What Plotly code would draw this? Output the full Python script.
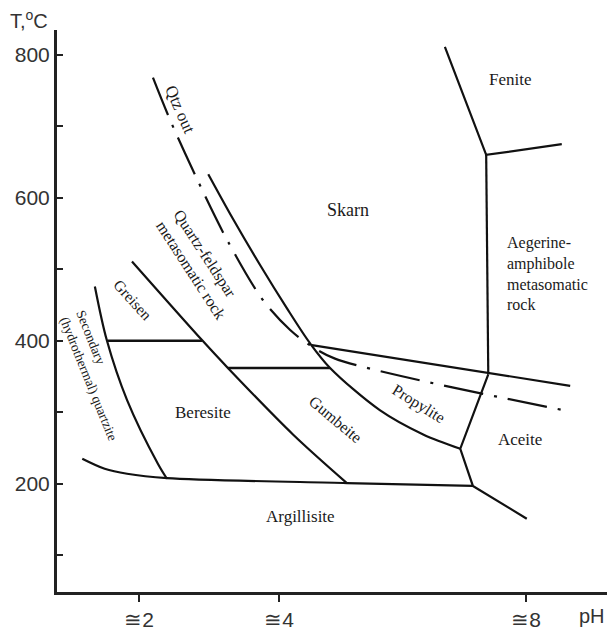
import plotly.graph_objects as go

# ---- data ----
# axis ticks
ph_tick_pos = [2, 4, 7.53]
ph_tick_labels = ["≅2", "≅4", "≅8"]
t_tick_vals = [200, 400, 600, 800]
t_tick_labels = ["200", "400", "600", "800"]
t_minor_vals = [100, 300, 500, 700]

# boundary lines (pH, T)
qtz_out_ph = [2.20, 2.44, 2.84, 3.27, 3.77, 4.16, 4.44, 4.80, 8.06]
qtz_out_t = [768, 710, 624, 539, 457, 415, 394, 375, 303]

skarn_ph = [2.99, 3.34, 3.73, 4.11, 4.44, 4.73, 5.44, 6.06, 6.59]
skarn_t = [633, 571, 506, 446, 397, 362, 303, 269, 249]

propylite_top_ph = [4.47, 8.16]
propylite_top_t = [394, 337]

aegirine_ph = [6.96, 6.99]
aegirine_t = [660, 353]

fenite_ph = [6.37, 6.96, 8.04]
fenite_t = [811, 660, 675]

aceite_ph = [6.99, 6.59, 6.77, 7.54]
aceite_t = [353, 249, 197, 151]

argillisite_ph = [1.19, 1.51, 1.83, 2.40, 4.97, 6.77]
argillisite_t = [235, 221, 214, 208, 201, 197]

quartzite_ph = [1.37, 1.54, 1.83, 2.27, 2.40]
quartzite_t = [476, 401, 317, 228, 207]

greisen_low_ph = [1.55, 2.90]
greisen_low_t = [400, 400]

beresite_ph = [1.90, 2.90, 3.27, 4.20, 4.97]
beresite_t = [511, 401, 362, 269, 201]

gumbeite_top_ph = [3.27, 4.73]
gumbeite_top_t = [362, 362]

LINE = "#111111"
SERIF = "Liberation Serif, Times New Roman, serif"
SANS = "Liberation Sans, Arial, sans-serif"

fig = go.Figure()

def add_line(xs, ys, smooth=False, dash="solid", width=2.2):
    fig.add_trace(go.Scatter(
        x=xs, y=ys, mode="lines",
        line=dict(color=LINE, width=width, dash=dash,
                  shape="spline" if smooth else "linear",
                  smoothing=0.9 if smooth else 0),
        hoverinfo="skip", showlegend=False))

add_line(qtz_out_ph, qtz_out_t, smooth=True, dash="40px,11px,3px,11px", width=2.2)
add_line(skarn_ph, skarn_t, smooth=True)
add_line(propylite_top_ph, propylite_top_t)
add_line(aegirine_ph, aegirine_t)
add_line(fenite_ph, fenite_t)
add_line(aceite_ph, aceite_t)
add_line(argillisite_ph, argillisite_t, smooth=True)
add_line(quartzite_ph, quartzite_t, smooth=True)
add_line(greisen_low_ph, greisen_low_t, width=2.6)
add_line(beresite_ph, beresite_t, smooth=True)
add_line(gumbeite_top_ph, gumbeite_top_t, width=2.6)

labels = [
    # text, x, y, angle, size, align
    ("Qtz out", 2.59, 724, 66, 17, "center"),
    ("Quartz-feldspar<br>metasomatic rock", 2.86, 507, 57, 16, "left"),
    ("Greisen", 1.91, 458, 48, 15.5, "center"),
    ("Secondary<br>(hydrothermal) quartzite", 1.39, 351, 68, 13.5, "left"),
    ("Beresite", 2.91, 300, 0, 17, "center"),
    ("Gumbeite", 4.81, 290, 40, 16, "center"),
    ("Propylite", 5.99, 311, 32, 16, "center"),
    ("Aceite", 7.44, 262, 0, 17, "center"),
    ("Argillisite", 4.31, 154, 0, 17, "center"),
    ("Skarn", 4.99, 583, 0, 18, "center"),
    ("Fenite", 7.31, 765, 0, 17, "center"),
    ("Aegerine-<br>amphibole<br>metasomatic<br>rock", 7.83, 494, 0, 16, "left"),
]
for text, x, y, ang, size, align in labels:
    fig.add_annotation(x=x, y=y, text=text, showarrow=False, textangle=ang,
                       align=align, xanchor="center", yanchor="middle",
                       font=dict(family=SERIF, size=size, color="#1a1a1a"))

fig.add_annotation(xref="paper", yref="paper", x=-0.051, y=1.019,
                   text="T,<sup>o</sup>C", showarrow=False,
                   xanchor="center", yanchor="middle",
                   font=dict(family=SANS, size=20, color="#333333"))
fig.add_annotation(xref="paper", yref="paper", x=1.0, y=-0.042,
                   text="pH", showarrow=False,
                   xanchor="right", yanchor="middle",
                   font=dict(family=SANS, size=20, color="#333333"))

fig.update_layout(
    width=607, height=631,
    margin=dict(l=57, r=0, t=30, b=35),
    paper_bgcolor="white", plot_bgcolor="white",
    showlegend=False,
    xaxis=dict(range=[0.829, 8.686], showgrid=False, zeroline=False,
               showline=True, linecolor="#222", linewidth=3,
               tickmode="array", tickvals=ph_tick_pos, ticktext=ph_tick_labels,
               ticks="outside", ticklen=7, tickwidth=2, tickcolor="#222",
               tickfont=dict(family=SANS, size=21, color="#333333")),
    yaxis=dict(range=[48.6, 834.7], showgrid=False, zeroline=False,
               showline=True, linecolor="#222", linewidth=3,
               tickmode="array", tickvals=t_tick_vals, ticktext=t_tick_labels,
               ticks="inside", ticklen=6, tickwidth=2, tickcolor="#222",
               minor=dict(tickmode="array", tickvals=t_minor_vals,
                          ticks="inside", ticklen=6, tickwidth=2,
                          tickcolor="#222", showgrid=False),
               tickfont=dict(family=SANS, size=21, color="#333333")),
)

fig.write_html(
    "out.html",
    config={"displayModeBar": False},
    post_script="document.body.style.margin='0';document.body.style.overflow='hidden';",
)
